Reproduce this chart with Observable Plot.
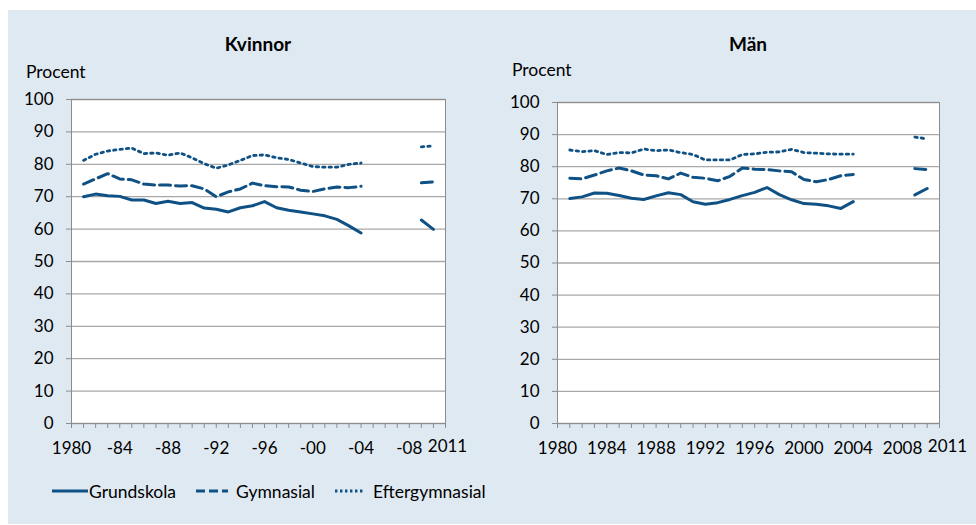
<!DOCTYPE html>
<html>
<head>
<meta charset="utf-8">
<script src="https://cdn.jsdelivr.net/npm/d3@7"></script>
<script src="https://cdn.jsdelivr.net/npm/@observablehq/plot@0.6"></script>
<style>
  body { margin: 0; background: #ffffff; font-family: Lato, "Open Sans", sans-serif; }
  #wrap { position: relative; width: 976px; height: 525px; overflow: hidden; background: #fff; }
  #bg { position: absolute; left: 8px; top: 10px; width: 968px; height: 514px; background: #dfe9f2; }
  .abs { position: absolute; }
  .title { font-weight: bold; font-size: 19px; color: #000; transform: translate(-50%, -50%); white-space: nowrap; }
  .unit { font-size: 17.5px; color: #000; transform: translateY(-50%); white-space: nowrap; }
  .leg { font-size: 17.5px; color: #000; transform: translateY(-50%); white-space: nowrap; }
</style>
</head>
<body>
<div id="wrap">
  <div id="bg"></div>
</div>
<script>
// ---- data ----
const years = [1981,1982,1983,1984,1985,1986,1987,1988,1989,1990,1991,1992,1993,1994,1995,1996,1997,1998,1999,2000,2001,2002,2003,2004,2005,2006,2007,2008,2009,2010];

const kvinnorGrundskola = [70.0,70.8,70.3,70.1,69.0,69.0,67.9,68.6,67.9,68.2,66.5,66.1,65.3,66.6,67.2,68.5,66.6,65.8,65.3,64.7,64.1,63.0,61.0,58.8,null,null,null,null,62.8,59.9];
const kvinnorGymnasial  = [73.9,75.5,77.1,75.5,75.2,73.9,73.6,73.6,73.3,73.4,72.4,70.0,71.5,72.4,74.2,73.4,73.1,73.0,72.0,71.6,72.4,73.0,72.8,73.2,null,null,null,null,74.3,74.6];
const kvinnorEfter      = [81.2,83.1,84.1,84.6,85.0,83.3,83.5,82.8,83.5,82.0,80.2,78.8,79.8,81.2,82.7,82.9,82.0,81.5,80.4,79.3,79.1,79.1,80.0,80.4,null,null,null,null,85.4,85.7];

const manGrundskola = [70.1,70.6,71.8,71.7,71.0,70.2,69.8,70.9,71.9,71.3,69.1,68.3,68.8,69.8,71.0,72.0,73.5,71.3,69.7,68.5,68.3,67.8,67.0,69.1,null,null,null,null,71.2,73.2];
const manGymnasial  = [76.4,76.2,77.4,78.7,79.6,78.7,77.4,77.2,76.2,78.0,76.7,76.4,75.6,77.0,79.6,79.2,79.1,78.7,78.4,76.0,75.3,76.0,77.2,77.6,null,null,null,null,79.4,79.1];
const manEfter      = [85.2,84.7,85.0,83.8,84.4,84.3,85.5,85.0,85.2,84.4,83.8,82.1,82.1,82.1,83.8,84.0,84.5,84.6,85.4,84.4,84.2,84.0,83.9,83.9,null,null,null,null,89.2,88.7];

const yTicks = [0,10,20,30,40,50,60,70,80,90,100];
const labelYears = [1980,1984,1988,1992,1996,2000,2004,2008];
const kvinnorLabels = ["1980","-84","-88","-92","-96","-00","-04","-08"];
const manLabels = ["1980","1984","1988","1992","1996","2000","2004","2008"];
const endYear = 2011;
const endLabel = "2011";
const seriesNames = ["Grundskola","Gymnasial","Eftergymnasial"];
const titles = ["Kvinnor","Män"];
const unitLabel = "Procent";

// ---- styles ----
const lineColor = "#0f5184";
const gridColor = "#a8a8a8";
const axisColor = "#8c8c8c";
const dashes = [null, "11 5", "2.4 4"];

function panel(g, gy, ef, labels, m) {
  const rows = years.map((yr, i) => ({year: yr, g: g[i], gy: gy[i], ef: ef[i]}));
  const labelRows = labelYears.map((yr, i) => ({year: yr, text: labels[i]}));
  const tickYears = d3.range(1980, 2012);
  return Plot.plot({
    width: 488, height: 470,
    marginLeft: m.left, marginRight: m.right, marginTop: m.top, marginBottom: m.bottom,
    x: {domain: [1980, 2011], axis: null},
    y: {domain: [0, 100], axis: null},
    style: {background: "transparent", fontFamily: "Lato, 'Open Sans', sans-serif", fontSize: "17px", color: "#000", overflow: "visible"},
    marks: [
      Plot.frame({fill: "white", stroke: "none"}),
      Plot.gridY(yTicks, {stroke: gridColor, strokeOpacity: 1, strokeWidth: 1.3}),
      Plot.frame({stroke: axisColor, strokeOpacity: 1}),
      Plot.axisY({ticks: yTicks, tickSize: 5, tickPadding: 13, stroke: axisColor, fill: "#000", label: null, tickFormat: d => String(d)}),
      Plot.axisX({ticks: tickYears, tickSize: 5, stroke: axisColor, tickFormat: () => "", label: null}),
      Plot.text(labelRows, {x: "year", text: "text", frameAnchor: "bottom", lineAnchor: "middle", dy: 25, fill: "#000"}),
      Plot.text([endYear], {x: d => d, text: () => endLabel, frameAnchor: "bottom", lineAnchor: "middle", dy: 23.5, dx: m.endDx, fill: "#000"}),
      Plot.line(rows, {x: "year", y: "g", stroke: lineColor, strokeWidth: 3}),
      Plot.line(rows, {x: "year", y: "gy", stroke: lineColor, strokeWidth: 3, strokeDasharray: dashes[1]}),
      Plot.line(rows, {x: "year", y: "ef", stroke: lineColor, strokeWidth: 2.8, strokeDasharray: dashes[2]})
    ]
  });
}

const wrap = document.getElementById("wrap");

function place(el, left, top) {
  el.style.position = "absolute";
  el.style.left = left + "px";
  el.style.top = top + "px";
  wrap.appendChild(el);
}

const left = panel(kvinnorGrundskola, kvinnorGymnasial, kvinnorEfter, kvinnorLabels, {left: 71, right: 43, top: 99, bottom: 47, endDx: 2});
place(left, 0, 0);
const right = panel(manGrundskola, manGymnasial, manEfter, manLabels, {left: 69, right: 37, top: 102, bottom: 47, endDx: 8});
place(right, 488, 0);

function addText(cls, text, x, y) {
  const d = document.createElement("div");
  d.className = "abs " + cls;
  d.textContent = text;
  d.style.left = x + "px";
  d.style.top = y + "px";
  wrap.appendChild(d);
}
addText("title", titles[0], 258, 43);
addText("title", titles[1], 748, 43);
addText("unit", unitLabel, 26, 71);
addText("unit", unitLabel, 512, 69);

// legend
const legendItems = [
  {name: seriesNames[0], x: 52, w: 36, tx: 89, dash: dashes[0], sw: 3},
  {name: seriesNames[1], x: 196, w: 32, tx: 236, dash: "9 4", sw: 3},
  {name: seriesNames[2], x: 335, w: 30, tx: 373, dash: "2.4 2.6", sw: 2.8}
];
legendItems.forEach(it => {
  const svg = d3.create("svg").attr("width", it.w).attr("height", 10);
  svg.append("line").attr("x1", 0).attr("x2", it.w).attr("y1", 5).attr("y2", 5)
    .attr("stroke", lineColor).attr("stroke-width", it.sw)
    .attr("stroke-dasharray", it.dash);
  const n = svg.node();
  n.style.position = "absolute";
  n.style.left = it.x + "px";
  n.style.top = "486px";
  wrap.appendChild(n);
  addText("leg", it.name, it.tx, 491);
});
</script>
</body>
</html>
